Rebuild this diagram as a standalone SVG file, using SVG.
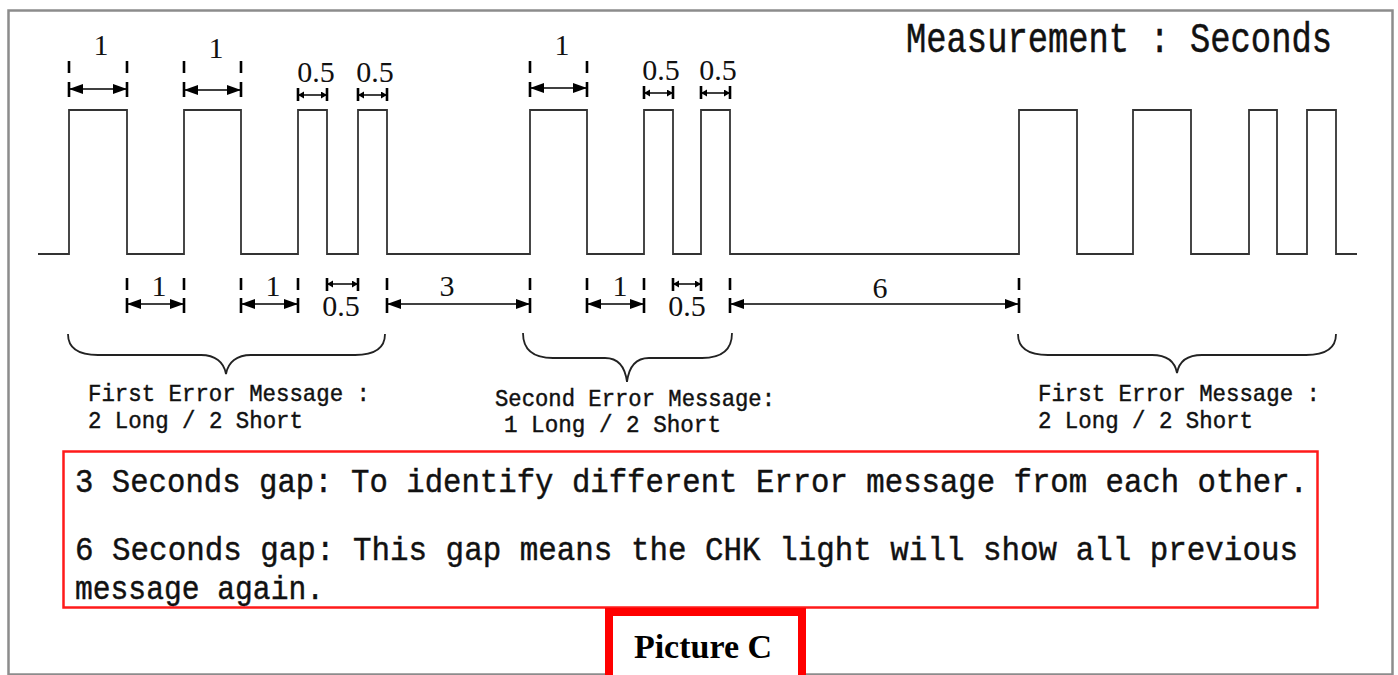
<svg xmlns="http://www.w3.org/2000/svg" width="1398" height="675" viewBox="0 0 1398 675">
<defs>
<marker id="ah" markerUnits="userSpaceOnUse" markerWidth="15" markerHeight="11" refX="14" refY="5" orient="auto-start-reverse"><path d="M0,0 L14,5 L0,10 z" fill="#000"/></marker>
<marker id="as" markerUnits="userSpaceOnUse" markerWidth="8" markerHeight="8" refX="6" refY="3.5" orient="auto-start-reverse"><path d="M0,0 L6,3.5 L0,7 z" fill="#000"/></marker>
<style>
.sig{fill:none;stroke:#333;stroke-width:1.8}
.tick{fill:none;stroke:#000;stroke-width:2.6}
.dim{fill:none;stroke:#000;stroke-width:1.5;marker-start:url(#ah);marker-end:url(#ah)}
.dims{fill:none;stroke:#000;stroke-width:1.5;marker-start:url(#as);marker-end:url(#as)}
.brace{fill:none;stroke:#222;stroke-width:1.8}
.num{font-family:"Liberation Serif",serif;font-size:30px;fill:#111;text-anchor:middle}
.mono{font-family:"Liberation Mono","DejaVu Sans Mono",monospace;fill:#111;stroke:#111;stroke-width:0.4}
.lbl{font-size:22.4px}
.big{font-size:30.7px}
</style>
</defs>
<rect x="0" y="0" width="1398" height="675" fill="#fff"/>
<rect id="frame" x="8.5" y="10.5" width="1384" height="664" fill="none" stroke="#8c8c8c" stroke-width="2.5"/>

<g id="title"><text class="mono" transform="translate(906,52) scale(1,1.25)" x="0" y="0" font-size="33.8" textLength="426" lengthAdjust="spacingAndGlyphs">Measurement : Seconds</text></g>

<g id="signal"><path class="sig" d="M38,254 H69 V110 H127 V254 H184 V110 H241 V254 H298 V110 H327 V254 H358 V110 H387 V254 H530 V110 H587 V254 H644 V110 H673 V254 H701 V110 H730 V254 H1019 V110 H1077 V254 H1133 V110 H1191 V254 H1249 V110 H1277 V254 H1307 V110 H1336 V254 H1357"/></g>

<g id="connectors">
<path class="tick" d="M69,61V73M69,82V97 M127,61V73M127,82V97 M184,61V73M184,82V97 M241,61V73M241,82V97 M530,61V73M530,82V97 M587,61V73M587,82V97"/>
<path class="dim" d="M69,89H127"/>
<path class="dim" d="M184,90H241"/>
<path class="dim" d="M530,88H587"/>
<path class="tick" d="M298,88V101 M327,88V101 M358,88V101 M387,88V101 M644,86V99 M673,86V99 M701,86V99 M730,86V99"/>
<path class="dims" d="M298,95H327"/>
<path class="dims" d="M358,95H387"/>
<path class="dims" d="M644,93H673"/>
<path class="dims" d="M701,93H730"/>
<path class="tick" d="M127,278V290M127,298V313 M184,278V290M184,298V313 M241,278V290M241,298V313 M298,278V290M298,298V313 M387,278V290M387,298V313 M530,278V290M530,298V313 M587,278V290M587,298V313 M644,278V290M644,298V313 M730,278V290M730,298V313 M1019,278V290M1019,298V313"/>
<path class="dim" d="M127,304H184"/>
<path class="dim" d="M241,304H298"/>
<path class="dim" d="M387,304H530"/>
<path class="dim" d="M587,304H644"/>
<path class="dim" d="M730,304H1019"/>
<path class="tick" d="M327,278V291 M358,278V291 M673,278V291 M701,278V291"/>
<path class="dims" d="M327,284H358"/>
<path class="dims" d="M673,284H701"/>
</g>

<g id="dim-labels">
<text class="num" x="101" y="55">1</text>
<text class="num" x="216" y="58">1</text>
<text class="num" x="316" y="82">0.5</text>
<text class="num" x="375" y="82">0.5</text>
<text class="num" x="562" y="55">1</text>
<text class="num" x="661" y="80">0.5</text>
<text class="num" x="718" y="80">0.5</text>
<text class="num" x="159" y="296">1</text>
<text class="num" x="273" y="296">1</text>
<text class="num" x="341" y="316">0.5</text>
<text class="num" x="447" y="296">3</text>
<text class="num" x="620" y="296">1</text>
<text class="num" x="687" y="316">0.5</text>
<text class="num" x="880" y="298">6</text>
</g>

<g id="msg1">
<path class="brace" d="M68,334 C68,348 78,355 98,355 H201 C215,355 224,362 226,374 C228,362 237,355 251,355 H355 C375,355 385,348 385,334"/>
<text class="mono lbl" transform="translate(88,401) scale(1,1.08)" x="0" y="0" textLength="282" lengthAdjust="spacingAndGlyphs">First Error Message :</text>
<text class="mono lbl" transform="translate(88,428) scale(1,1.08)" x="0" y="0" textLength="215" lengthAdjust="spacingAndGlyphs">2 Long / 2 Short</text>
</g>
<g id="msg2">
<path class="brace" d="M523,333 C523,350 533,358 553,358 H605 C618,358 625,366 627,382 C629,366 636,358 649,358 H702 C722,358 732,350 732,333"/>
<text class="mono lbl" transform="translate(495,406) scale(1,1.08)" x="0" y="0" textLength="280" lengthAdjust="spacingAndGlyphs">Second Error Message:</text>
<text class="mono lbl" transform="translate(504,432) scale(1,1.08)" x="0" y="0" textLength="217" lengthAdjust="spacingAndGlyphs">1 Long / 2 Short</text>
</g>
<g id="msg3">
<path class="brace" d="M1018,334 C1018,348 1028,355 1048,355 H1152 C1167,355 1175,362 1177,373 C1179,362 1187,355 1202,355 H1306 C1326,355 1336,348 1336,334"/>
<text class="mono lbl" transform="translate(1038,401) scale(1,1.08)" x="0" y="0" textLength="282" lengthAdjust="spacingAndGlyphs">First Error Message :</text>
<text class="mono lbl" transform="translate(1038,428) scale(1,1.08)" x="0" y="0" textLength="215" lengthAdjust="spacingAndGlyphs">2 Long / 2 Short</text>
</g>

<g id="note">
<rect x="63.5" y="451.5" width="1254" height="156" fill="none" stroke="#ff1a1a" stroke-width="2.5"/>
<text class="mono big" transform="translate(75,492) scale(1,1.1)" x="0" y="0" textLength="1233" lengthAdjust="spacingAndGlyphs">3 Seconds gap: To identify different Error message from each other.</text>
<text class="mono big" transform="translate(75,560) scale(1,1.1)" x="0" y="0" textLength="1223" lengthAdjust="spacingAndGlyphs">6 Seconds gap: This gap means the CHK light will show all previous</text>
<text class="mono big" transform="translate(75,599) scale(1,1.1)" x="0" y="0" textLength="249" lengthAdjust="spacingAndGlyphs">message again.</text>
</g>

<g id="caption">
<rect x="609" y="612" width="193" height="80" fill="#fff" stroke="#ff0000" stroke-width="8"/>
<text x="703" y="658" font-family="'Liberation Serif',serif" font-weight="bold" font-size="34" text-anchor="middle" fill="#000">Picture C</text>
</g>
</svg>
